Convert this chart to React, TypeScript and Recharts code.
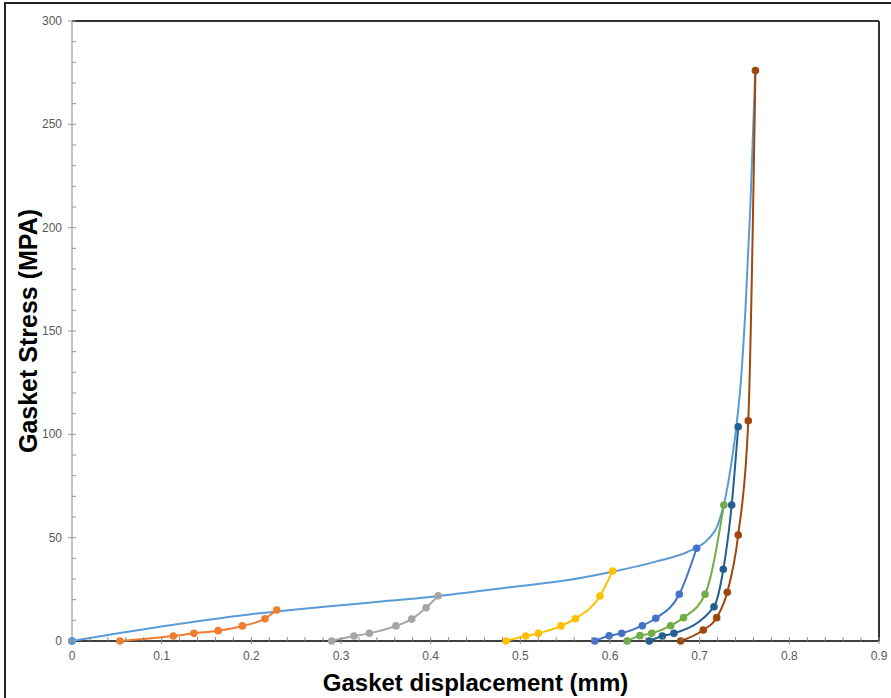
import React from 'react';
import { LineChart, Line, XAxis, YAxis, ReferenceLine } from 'recharts';

const loading = [
  { x: 0, y: 0 }, { x: 0.05, y: 3.6 }, { x: 0.1, y: 7 }, { x: 0.15, y: 10.2 },
  { x: 0.2, y: 13 }, { x: 0.25, y: 15.3 }, { x: 0.3, y: 17.3 }, { x: 0.35, y: 19.3 },
  { x: 0.4, y: 21.3 }, { x: 0.45, y: 24 }, { x: 0.5, y: 26.6 }, { x: 0.55, y: 29.3 },
  { x: 0.6, y: 33.3 }, { x: 0.65, y: 38.3 }, { x: 0.69, y: 43.8 }, { x: 0.71, y: 49.5 },
  { x: 0.72, y: 56 }, { x: 0.728, y: 68 }, { x: 0.735, y: 85 }, { x: 0.741, y: 104 },
  { x: 0.746, y: 126 }, { x: 0.751, y: 160 }, { x: 0.7565, y: 210 }, { x: 0.762, y: 276 },
];
const loadingStart = [{ x: 0, y: 0 }];
const orange = [
  { x: 0.0535, y: 0 }, { x: 0.113, y: 2.4 }, { x: 0.136, y: 3.7 }, { x: 0.163, y: 5.0 },
  { x: 0.19, y: 7.3 }, { x: 0.2152, y: 10.8 }, { x: 0.2283, y: 15.0 },
];
const gray = [
  { x: 0.2896, y: 0 }, { x: 0.3145, y: 2.4 }, { x: 0.3316, y: 3.7 }, { x: 0.3613, y: 7.3 },
  { x: 0.3788, y: 10.6 }, { x: 0.3948, y: 16.1 }, { x: 0.4085, y: 21.9 },
];
const yellow = [
  { x: 0.484, y: 0 }, { x: 0.506, y: 2.4 }, { x: 0.5201, y: 3.7 }, { x: 0.5453, y: 7.3 },
  { x: 0.5613, y: 10.8 }, { x: 0.5888, y: 21.8 }, { x: 0.603, y: 33.9 },
];
const blue = [
  { x: 0.583, y: 0 }, { x: 0.599, y: 2.5 }, { x: 0.613, y: 3.7 }, { x: 0.636, y: 7.4 },
  { x: 0.651, y: 11 }, { x: 0.6773, y: 22.6 }, { x: 0.6966, y: 44.9 },
];
const green = [
  { x: 0.619, y: 0 }, { x: 0.6334, y: 2.6 }, { x: 0.6465, y: 3.7 }, { x: 0.6676, y: 7.4 },
  { x: 0.682, y: 11.3 }, { x: 0.706, y: 22.6 }, { x: 0.727, y: 65.8 },
];
const darkBlue = [
  { x: 0.6438, y: 0 }, { x: 0.6584, y: 2.4 }, { x: 0.6713, y: 3.7 }, { x: 0.716, y: 16.6 },
  { x: 0.7264, y: 34.7 }, { x: 0.7357, y: 65.8 }, { x: 0.743, y: 103.7 },
];
const brown = [
  { x: 0.6788, y: 0 }, { x: 0.704, y: 5.3 }, { x: 0.719, y: 11.3 }, { x: 0.7308, y: 23.6 },
  { x: 0.743, y: 51.3 }, { x: 0.7542, y: 106.6 }, { x: 0.7622, y: 276 },
];

const xMajorTicks = [0, 0.1, 0.2, 0.3, 0.4, 0.5, 0.6, 0.7, 0.8, 0.9];
const yMajorTicks = [0, 50, 100, 150, 200, 250, 300];
const xTicks: number[] = [];
for (let i = 0; i <= 45; i++) xTicks.push(Math.round(i * 2) / 100);
const yTicks: number[] = [];
for (let i = 0; i <= 30; i++) yTicks.push(i * 10);

const xTitle = 'Gasket displacement (mm)';
const yTitle = 'Gasket Stress (MPA)';

const FONT = '"Liberation Sans", Arial, sans-serif';
const TICK_COLOR = '#595959';

const isMajorX = (v: number) => xMajorTicks.some((m) => Math.abs(m - v) < 1e-6);
const isMajorY = (v: number) => yMajorTicks.includes(v);

const XTick = (props: any) => {
  const { x, y, payload } = props;
  const major = isMajorX(payload.value);
  return (
    <g>
      <line x1={x} x2={x} y1={y - 4} y2={major ? y + 3 : y} stroke="#888" strokeWidth={1} />
      {major && (
        <text x={x} y={y + 19} textAnchor="middle" fontSize={12} fill={TICK_COLOR} fontFamily={FONT}>
          {payload.value}
        </text>
      )}
    </g>
  );
};

const YTick = (props: any) => {
  const { x, y, payload } = props;
  const major = isMajorY(payload.value);
  return (
    <g>
      <line x1={major ? x - 4 : x} x2={x + 4} y1={y} y2={y} stroke="#999" strokeWidth={1} />
      {major && (
        <text x={x - 10} y={y + 4} textAnchor="end" fontSize={12} fill={TICK_COLOR} fontFamily={FONT}>
          {payload.value}
        </text>
      )}
    </g>
  );
};

const series = [
  { key: 'orange', data: orange, color: '#ED7D31' },
  { key: 'gray', data: gray, color: '#A5A5A5' },
  { key: 'yellow', data: yellow, color: '#FFC000' },
  { key: 'blue', data: blue, color: '#4472C4' },
  { key: 'green', data: green, color: '#70AD47' },
  { key: 'darkBlue', data: darkBlue, color: '#255E91' },
  { key: 'brown', data: brown, color: '#9E480E' },
];

export default function App() {
  return (
    <div style={{ position: 'absolute', left: 0, top: 0, width: 891, height: 698, background: '#fff', overflow: 'hidden' }}>
      <div style={{ position: 'absolute', left: 4, top: 2, right: 0, height: 2, background: '#222' }} />
      <div style={{ position: 'absolute', left: 4, top: 2, bottom: 0, width: 2, background: '#222' }} />
      <div style={{ position: 'absolute', left: 0, top: 0 }}>
        <LineChart width={891} height={698} margin={{ top: 21, right: 12, bottom: 0, left: 0 }}>
          <XAxis
            dataKey="x"
            type="number"
            domain={[0, 0.9]}
            ticks={xTicks}
            interval={0}
            height={57}
            tickSize={0}
            tickMargin={0}
            tickLine={false}
            tick={<XTick />}
            axisLine={false}
          />
          <YAxis
            dataKey="y"
            type="number"
            domain={[0, 300]}
            ticks={yTicks}
            interval={0}
            width={72}
            tickSize={0}
            tickMargin={0}
            tickLine={false}
            tick={<YTick />}
            axisLine={{ stroke: '#888', strokeWidth: 1 }}
          />
          <ReferenceLine y={0} stroke="#404040" strokeWidth={2} />
          <ReferenceLine y={300} stroke="#333" strokeWidth={2} />
          <ReferenceLine x={0.9} stroke="#333" strokeWidth={2} />
          <Line
            data={loading}
            dataKey="y"
            type="monotone"
            stroke="#5B9BD5"
            strokeWidth={2}
            dot={false}
            activeDot={false}
            isAnimationActive={false}
          />
          <Line
            data={loadingStart}
            dataKey="y"
            stroke="#5B9BD5"
            strokeWidth={0}
            dot={{ r: 4, fill: '#5B9BD5', stroke: 'none', clipDot: false } as any}
            activeDot={false}
            isAnimationActive={false}
          />
          {series.map((s) => (
            <Line
              key={s.key}
              data={s.data}
              dataKey="y"
              type="monotone"
              stroke={s.color}
              strokeWidth={2}
              dot={{ r: 3.8, fill: s.color, stroke: 'none', clipDot: false } as any}
              activeDot={false}
              isAnimationActive={false}
            />
          ))}
        </LineChart>
      </div>
      <div
        style={{
          position: 'absolute', left: 0, width: 951, top: 668, textAlign: 'center',
          fontFamily: FONT, fontWeight: 'bold', fontSize: 24, color: '#000', lineHeight: '30px',
        }}
      >
        {xTitle}
      </div>
      <div style={{ position: 'absolute', left: 28, top: 331, width: 0, height: 0 }}>
        <div
          style={{
            position: 'absolute', left: 0, top: 0, transform: 'translate(-50%, -50%) rotate(-90deg)',
            whiteSpace: 'nowrap', fontFamily: FONT, fontWeight: 'bold', fontSize: 25, color: '#000', lineHeight: '30px',
          }}
        >
          {yTitle}
        </div>
      </div>
    </div>
  );
}
